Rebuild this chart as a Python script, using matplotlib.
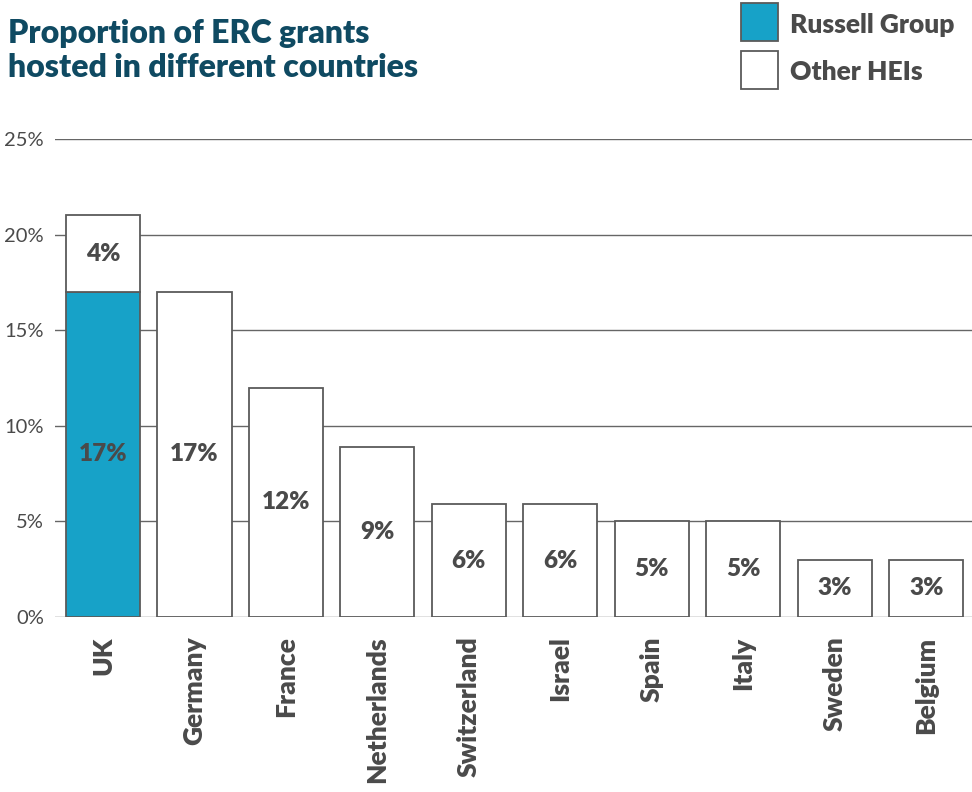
import matplotlib
matplotlib.use("Agg")
import matplotlib.pyplot as plt
from matplotlib.patches import Rectangle

countries = ["UK", "Germany", "France", "Netherlands", "Switzerland",
             "Israel", "Spain", "Italy", "Sweden", "Belgium"]
russell = [17, 0, 0, 0, 0, 0, 0, 0, 0, 0]
other = [4, 17, 12, 8.9, 5.9, 5.9, 5, 5, 3, 3]
yticks = [0, 5, 10, 15, 20, 25]
ytick_labels = ["0%", "5%", "10%", "15%", "20%", "25%"]

TEAL = "#17a2c8"
EDGE = "#5a5a5a"
TXT = "#4a4a4a"
TITLE = "#0f4a62"

plt.rcParams['font.family'] = ['Lato', 'DejaVu Sans']

fig = plt.figure(figsize=(9.72, 7.92), dpi=100)
ax = fig.add_axes([55/972, 175/792, 1 - 55/972, (617-139)/792])

x = list(range(len(countries)))
w = 0.81
ax.bar(x, russell, width=w, color=TEAL, edgecolor=EDGE, linewidth=1.3, zorder=3)
ax.bar(x, other, width=w, bottom=russell, color="white", edgecolor=EDGE, linewidth=1.3, zorder=3)

for i in x:
    if russell[i] > 0:
        ax.text(i, russell[i]/2, f"{round(russell[i])}%", ha="center", va="center",
                fontsize=17.5, fontweight="heavy", color=TXT, zorder=4)
    ax.text(i, russell[i] + other[i]/2, f"{round(other[i])}%", ha="center", va="center",
            fontsize=17.5, fontweight="heavy", color=TXT, zorder=4)

ax.set_xlim(-0.525, len(countries) - 0.5)
ax.set_ylim(0, 25)
ax.set_yticks(yticks)
ax.set_yticklabels(ytick_labels, fontsize=14.5, color=TXT)
ax.yaxis.grid(True, color="#666666", linewidth=1.0, zorder=0)
ax.tick_params(axis="y", length=0, pad=8)
ax.set_xticks(x)
ax.set_xticklabels(countries, rotation=90, fontsize=19, fontweight="heavy", color=TXT)
ax.tick_params(axis="x", length=0, pad=14)
for s in ax.spines.values():
    s.set_visible(False)

fig.text(8/972, 1 - 82/792, "Proportion of ERC grants\nhosted in different countries",
         fontsize=23, fontweight="heavy", color=TITLE, ha="left", va="bottom",
         linespacing=1.2)

# Legend
fig.patches.append(Rectangle((741/972, 1 - 41/792), 37/972, 38/792, transform=fig.transFigure,
                             facecolor=TEAL, edgecolor=EDGE, linewidth=1.3))
fig.patches.append(Rectangle((741/972, 1 - 89/792), 37/972, 38/792, transform=fig.transFigure,
                             facecolor="white", edgecolor=EDGE, linewidth=1.3))
fig.text(790/972, 1 - 25/792, "Russell Group", fontsize=19, fontweight="heavy", color=TXT,
         ha="left", va="center")
fig.text(790/972, 1 - 72/792, "Other HEIs", fontsize=19, fontweight="heavy", color=TXT,
         ha="left", va="center")

fig.savefig("out.png", dpi=100)
